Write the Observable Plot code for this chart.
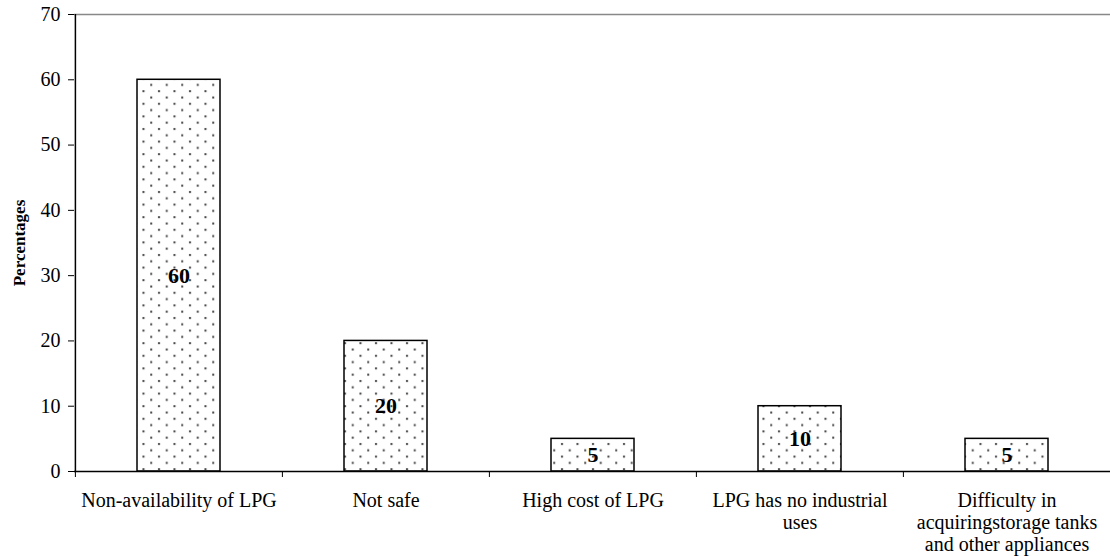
<!DOCTYPE html>
<html>
<head>
<meta charset="utf-8">
<script src="https://cdn.jsdelivr.net/npm/d3@7"></script>
<script src="https://cdn.jsdelivr.net/npm/@observablehq/plot@0.6"></script>
<style>
  html, body { margin: 0; padding: 0; background: #fff; }
</style>
</head>
<body>
<div id="chart"></div>
<script>
const categories = [
  "Non-availability of LPG",
  "Not safe",
  "High cost of LPG",
  "LPG has no industrial uses",
  "Difficulty in acquiringstorage tanks and other appliances"
];
const tickLabels = [
  "Non-availability of LPG",
  "Not safe",
  "High cost of LPG",
  "LPG has no industrial\nuses",
  "Difficulty in\nacquiringstorage tanks\nand other appliances"
];
const values = [60, 20, 5, 10, 5];
const yTicks = [0, 10, 20, 30, 40, 50, 60, 70];
const yTitle = "Percentages";

const data = categories.map((c, i) => ({category: c, value: values[i]}));
const labelOf = new Map(categories.map((c, i) => [c, tickLabels[i]]));

const W = 1110, H = 556;
const mLeft = 74, mRight = 0;
const step = (W - mLeft - mRight) / categories.length;

const chart = Plot.plot({
  width: W,
  height: H,
  marginLeft: mLeft,
  marginRight: mRight,
  marginTop: 14,
  marginBottom: 85,
  style: {fontFamily: "'Liberation Serif', 'Times New Roman', serif", background: "#fff", color: "#000"},
  x: {domain: categories, paddingInner: 0.6, paddingOuter: 0.3, label: null},
  y: {domain: [0, 70], label: null},
  marks: [
    Plot.ruleY([70], {stroke: "#888", strokeWidth: 1.5}),
    Plot.barY(data, {x: "category", y: "value", fill: "url(#dots)", stroke: "#000", strokeWidth: 1.5}),
    Plot.text(data, {x: "category", y: d => d.value / 2, text: d => String(d.value), fontWeight: "bold", fontSize: 22, fill: "#000"}),
    Plot.axisY({ticks: yTicks, tickSize: 6, tickPadding: 8, fontSize: 20, stroke: "#000", strokeWidth: 1, label: yTitle, labelAnchor: "center", labelArrow: "none", labelOffset: 62}),
    Plot.axisX({tickSize: 0, tickPadding: 20, fontSize: 20, lineHeight: 1.1, tickFormat: d => labelOf.get(d), label: null}),
    Plot.axisX({tickSize: 6, dx: -step / 2, tickFormat: () => "", stroke: "#000", label: null}),
    Plot.ruleX([0], {x: () => categories[0], dx: -step / 2, stroke: "#000", strokeWidth: 1.5}),
    Plot.ruleY([0], {stroke: "#000", strokeWidth: 1.5})
  ]
});

// dotted pattern
const ns = "http://www.w3.org/2000/svg";
const defs = document.createElementNS(ns, "defs");
const pat = document.createElementNS(ns, "pattern");
pat.setAttribute("id", "dots");
pat.setAttribute("patternUnits", "userSpaceOnUse");
pat.setAttribute("width", "15.5");
pat.setAttribute("height", "12.6");
const bg = document.createElementNS(ns, "rect");
bg.setAttribute("width", "15.5"); bg.setAttribute("height", "12.6"); bg.setAttribute("fill", "#fff");
pat.appendChild(bg);
[[3, 2], [10.75, 8.3]].forEach(([x, y]) => {
  const r = document.createElementNS(ns, "rect");
  r.setAttribute("x", x); r.setAttribute("y", y);
  r.setAttribute("width", "2"); r.setAttribute("height", "2");
  r.setAttribute("fill", "#444");
  pat.appendChild(r);
});
defs.appendChild(pat);
chart.insertBefore(defs, chart.firstChild);

// style y-axis title
chart.querySelectorAll("g[aria-label='y-axis label'] text").forEach(t => {
  t.setAttribute("font-weight", "bold");
  t.setAttribute("font-size", "17");
});

document.getElementById("chart").appendChild(chart);
</script>
</body>
</html>
